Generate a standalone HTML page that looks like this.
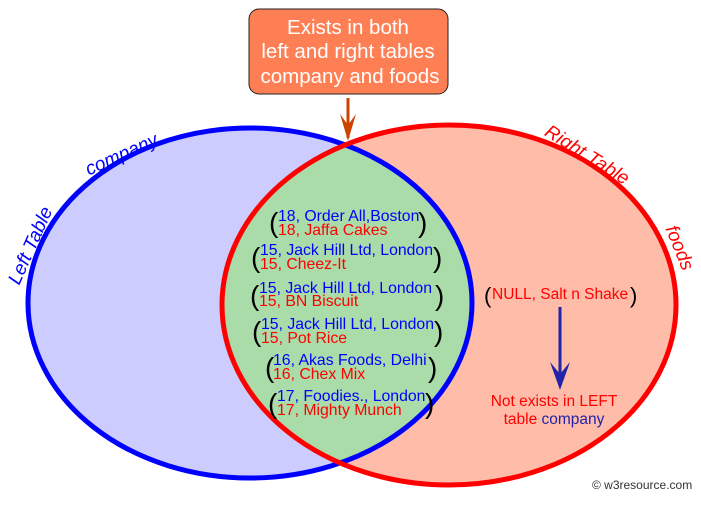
<!DOCTYPE html>
<html><head><meta charset="utf-8"><style>
html,body{margin:0;padding:0;background:#fff;}
svg{display:block;font-family:"Liberation Sans",sans-serif;}
</style></head><body>
<svg width="701" height="506" viewBox="0 0 701 506" xmlns="http://www.w3.org/2000/svg">
<defs>
<clipPath id="cl"><ellipse cx="250" cy="303" rx="222" ry="175"/></clipPath>
</defs>
<ellipse cx="250" cy="303" rx="222" ry="175" fill="#ccccff"/>
<ellipse cx="449" cy="305" rx="227" ry="180" fill="#ffbca8"/>
<ellipse cx="449" cy="305" rx="227" ry="180" fill="#aadcaa" clip-path="url(#cl)"/>
<ellipse cx="250" cy="303" rx="222" ry="175" fill="none" stroke="#0000ff" stroke-width="5"/>
<ellipse cx="449" cy="305" rx="227" ry="180" fill="none" stroke="#ff0000" stroke-width="5"/>
<path d="M345.5 132 A222 175 0 0 1 345.5 474" fill="none" stroke="#2222cc" stroke-width="4" clip-path="url(#cl)"/>

<rect x="249" y="9" width="199" height="85" rx="10" fill="#ff7f55" stroke="#222" stroke-width="1"/>
<g fill="#fff" font-size="20.5" text-anchor="middle">
<text x="348" y="34">Exists in both</text>
<text x="348" y="58">left and right tables</text>
<text x="350" y="83">company and foods</text>
</g>
<line x1="348" y1="98" x2="348" y2="138" stroke="#cc4400" stroke-width="3"/>
<path d="M340 114 L348 141 L356 114 L348 125 Z" fill="#cc4400"/>

<text transform="translate(36,248) rotate(-66)" font-size="19" font-style="italic" fill="#0000ff" text-anchor="middle">Left Table</text>
<text transform="translate(124,160) rotate(-24)" font-size="19" font-style="italic" fill="#0000ff" text-anchor="middle">company</text>
<text transform="translate(584,160) rotate(32)" font-size="19" font-style="italic" fill="#ff0000" text-anchor="middle">Right Table</text>
<text transform="translate(674,250) rotate(68)" font-size="19" font-style="italic" fill="#ff0000" text-anchor="middle">foods</text>

<g font-size="15.8">
<text x="269" y="232" font-size="28" fill="#000">(</text>
<text x="278" y="221" fill="#0000ff">18, Order All,Boston</text>
<text x="278" y="235" fill="#ff0000">18, Jaffa Cakes</text>
<text x="418" y="232" font-size="28" fill="#000">)</text>

<text x="251" y="267" font-size="28" fill="#000">(</text>
<text x="260" y="255" fill="#0000ff">15, Jack Hill Ltd, London</text>
<text x="260" y="269" fill="#ff0000">15, Cheez-It</text>
<text x="433" y="267" font-size="28" fill="#000">)</text>

<text x="250" y="305" font-size="28" fill="#000">(</text>
<text x="259" y="293" fill="#0000ff">15, Jack Hill Ltd, London</text>
<text x="259" y="306" fill="#ff0000">15, BN Biscuit</text>
<text x="435" y="305" font-size="28" fill="#000">)</text>

<text x="252" y="341" font-size="28" fill="#000">(</text>
<text x="261" y="329" fill="#0000ff">15, Jack Hill Ltd, London</text>
<text x="261" y="343" fill="#ff0000">15, Pot Rice</text>
<text x="434" y="341" font-size="28" fill="#000">)</text>

<text x="265" y="377" font-size="28" fill="#000">(</text>
<text x="273" y="365" fill="#0000ff">16, Akas Foods, Delhi</text>
<text x="273" y="379" fill="#ff0000">16, Chex Mix</text>
<text x="428" y="377" font-size="28" fill="#000">)</text>

<text x="268" y="413" font-size="28" fill="#000">(</text>
<text x="277" y="401" fill="#0000ff">17, Foodies., London</text>
<text x="277" y="415" fill="#ff0000">17, Mighty Munch</text>
<text x="425" y="413" font-size="28" fill="#000">)</text>

<text x="484" y="303" font-size="22" fill="#000">(</text>
<text x="492" y="299" font-size="15.5" fill="#ff0000">NULL, Salt n Shake</text>
<text x="630" y="303" font-size="22" fill="#000">)</text>
</g>
<line x1="560" y1="307" x2="560" y2="385" stroke="#2222aa" stroke-width="3"/>
<path d="M550 362 L560 390 L570 362 L560 374 Z" fill="#2222aa"/>
<g font-size="15.5" text-anchor="middle">
<text x="554" y="406" fill="#ff0000">Not exists in LEFT</text>
<text x="554" y="424" fill="#ff0000">table <tspan fill="#2222aa">company</tspan></text>
</g>
<text x="592" y="489" font-size="12" fill="#333">© w3resource.com</text>
</svg>
</body></html>
